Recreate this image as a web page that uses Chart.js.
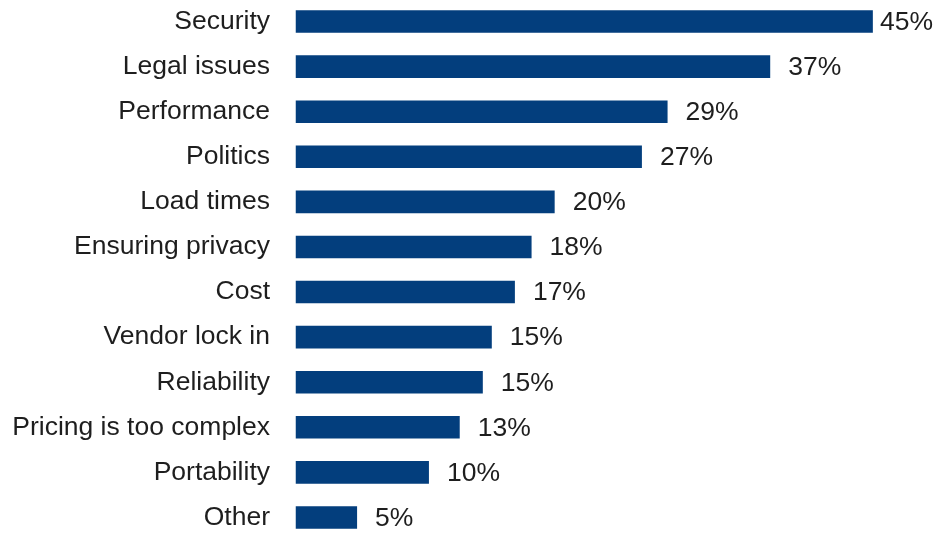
<!DOCTYPE html>
<html>
<head>
<meta charset="utf-8">
<script src="https://cdn.jsdelivr.net/npm/chart.js@4.4.1/dist/chart.umd.min.js"></script>
<style>
  html, body { margin: 0; padding: 0; background: #fff; overflow: hidden; width: 945px; height: 536px; }
  #wrap { width: 945px; height: 541px; position: absolute; left: 0; top: -1px; }
</style>
</head>
<body>
<div id="wrap"><canvas id="chart"></canvas></div>
<script>
const categories = ['Security', 'Legal issues', 'Performance', 'Politics', 'Load times', 'Ensuring privacy',
  'Cost', 'Vendor lock in', 'Reliability', 'Pricing is too complex', 'Portability', 'Other'];
const shares = [45, 37, 29, 27, 20.2, 18.4, 17.1, 15.3, 14.6, 12.8, 10.4, 4.8];

const barColor = '#033e7d';
const textColor = '#1e1e1e';
const fontFamily = '"Liberation Sans", Arial, Helvetica, sans-serif';

// draws "45%" style labels after each bar
const valueLabels = {
    id: 'valueLabels',
    afterDatasetsDraw(chart) {
        const ctx = chart.ctx;
        const meta = chart.getDatasetMeta(0);
        ctx.save();
        ctx.font = '26.5px ' + fontFamily;
        ctx.fillStyle = textColor;
        ctx.textBaseline = 'middle';
        ctx.textAlign = 'left';
        meta.data.forEach((bar, i) => {
            const txt = Math.round(shares[i]) + '%';
            const w = ctx.measureText(txt).width;
            const x = Math.min(bar.x + 18, chart.width - w - 12);
            ctx.fillText(txt, x, bar.y + 1);
        });
        ctx.restore();
    }
};

new Chart(document.getElementById('chart').getContext('2d'), {
    type: 'bar',
    data: {
        labels: categories,
        datasets: [{ data: shares, backgroundColor: barColor, barPercentage: 0.5, categoryPercentage: 1 }]
    },
    options: {
        indexAxis: 'y',
        responsive: true,
        maintainAspectRatio: false,
        animation: false,
        layout: { padding: { top: 0, bottom: 0, left: 0, right: 8 } },
        scales: {
            x: { min: 0, max: 50, display: false },
            y: {
                grid: { display: false, drawTicks: false },
                border: { display: false },
                ticks: { color: textColor, font: { size: 26.5, family: fontFamily }, padding: 25.5 },
                afterFit: (scale) => {
                    scale.width = 295.5;
                    scale.paddingTop = 0;
                    scale.paddingBottom = 0;
                }
            }
        },
        plugins: { legend: { display: false }, tooltip: { enabled: false } }
    },
    plugins: [valueLabels]
});
</script>
</body>
</html>
